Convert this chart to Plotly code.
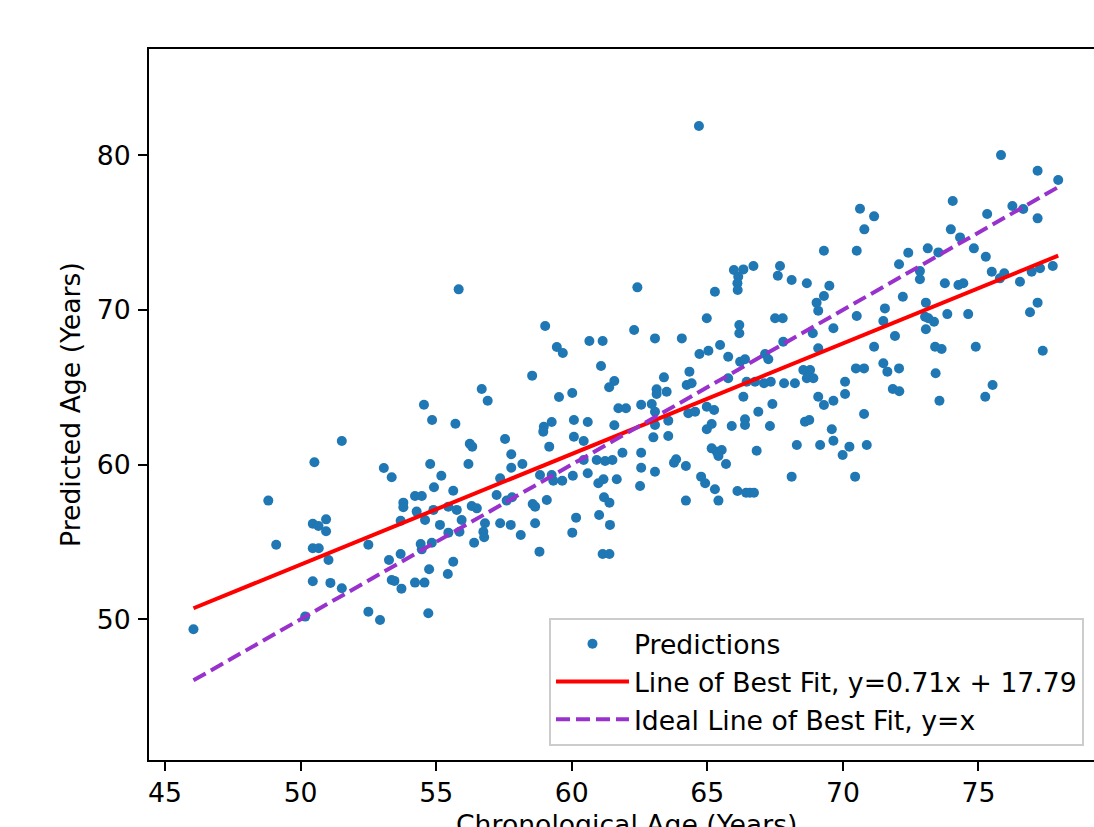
import plotly.graph_objects as go

# ---- data ----
chron_age = [
    51.52, 50.51, 53.07, 53.36, 48.81, 53.79, 53.79, 50.45, 50.66, 50.94,
    50.94, 53.69, 49.10, 50.45, 50.67, 52.50, 51.03, 53.26, 53.69, 50.45,
    51.10, 51.52, 53.36, 53.46, 53.72, 50.17, 52.50, 52.93, 46.05, 55.83,
    62.42, 59.02, 62.30, 60.65, 61.14, 59.45, 59.67, 61.08, 58.54, 61.57,
    61.38, 56.68, 56.90, 59.53, 60.02, 54.55, 54.85, 55.71, 61.72, 62.00,
    62.56, 58.97, 59.26, 58.95, 60.08, 60.59, 61.57, 57.54, 56.24, 56.33,
    59.17, 60.08, 60.44, 57.77, 54.78, 56.19, 57.77, 58.18, 55.19, 61.87,
    62.56, 60.44, 60.92, 61.23, 61.50, 62.56, 60.59, 61.17, 61.66, 60.98,
    60.04, 58.83, 59.26, 59.32, 59.65, 57.36, 54.92, 55.63, 62.52, 54.22,
    54.47, 54.28, 54.59, 54.90, 55.45, 55.76, 55.94, 55.14, 55.86, 55.45,
    56.31, 56.50, 57.23, 57.60, 57.80, 56.80, 56.74, 56.77, 56.40, 57.36,
    57.75, 58.12, 58.56, 58.65, 59.08, 58.65, 58.81, 60.16, 60.02, 61.01,
    61.19, 61.39, 61.41, 61.14, 61.39, 54.43, 54.84, 54.47, 54.74, 55.63,
    55.43, 54.22, 54.57, 54.71, 64.69, 70.63, 70.79, 69.30, 70.51, 65.98,
    66.33, 66.70, 66.14, 66.11, 66.12, 65.28, 67.68, 67.60, 68.11, 68.67,
    69.50, 69.30, 69.03, 69.09, 70.51, 64.98, 66.18, 66.18, 67.50, 67.78,
    68.89, 69.65, 63.07, 64.06, 65.47, 64.71, 65.04, 65.77, 66.21, 66.39,
    67.13, 67.25, 67.80, 69.09, 64.34, 63.40, 64.24, 64.42, 65.77, 63.13,
    63.13, 63.50, 62.95, 66.45, 66.76, 67.09, 67.34, 67.83, 68.23, 68.54,
    68.79, 68.67, 68.91, 70.08, 70.48, 70.78, 70.08, 66.33, 67.40, 69.09,
    69.30, 69.65, 63.07, 64.30, 64.55, 64.98, 65.25, 66.88, 70.78, 63.56,
    63.07, 63.01, 63.56, 64.98, 65.16, 65.90, 66.39, 66.39, 67.31, 68.60,
    68.76, 69.59, 69.65, 68.30, 69.16, 70.24, 69.99, 70.88, 63.07, 63.77,
    63.85, 64.21, 65.16, 65.35, 65.53, 65.41, 65.69, 66.82, 64.77, 64.92,
    65.28, 66.11, 66.43, 66.57, 66.72, 68.11, 70.45, 64.21, 65.41, 75.83,
    77.18, 77.94, 71.15, 74.05, 75.32, 76.25, 76.65, 77.18, 73.98, 74.32,
    73.13, 73.52, 72.41, 74.83, 75.27, 72.07, 72.84, 72.84, 75.49, 75.79,
    75.95, 76.96, 77.27, 77.74, 76.53, 73.76, 74.26, 74.44, 72.21, 71.55,
    73.06, 73.03, 73.15, 73.36, 73.85, 74.62, 77.18, 76.90, 71.49, 71.92,
    73.06, 71.15, 71.49, 71.64, 72.07, 73.40, 73.64, 74.90, 77.37, 73.42,
    71.84, 72.08, 75.52, 75.25, 73.56,
]
pred_age = [
    61.53, 60.15, 59.78, 59.18, 57.67, 57.54, 57.24, 56.18, 56.03, 56.46,
    55.69, 56.37, 54.82, 54.59, 54.59, 54.82, 53.83, 53.83, 54.22, 52.46,
    52.35, 52.00, 52.54, 52.48, 51.98, 50.17, 50.49, 49.95, 49.35, 71.33,
    71.46, 68.96, 68.70, 67.99, 67.99, 67.60, 67.21, 66.37, 65.75, 65.40,
    65.00, 64.89, 64.13, 64.37, 64.63, 63.87, 62.88, 62.64, 63.64, 63.64,
    63.87, 62.45, 62.75, 62.13, 62.88, 62.75, 62.54, 61.65, 61.35, 61.16,
    61.16, 61.80, 61.53, 60.67, 60.04, 60.04, 59.80, 60.04, 59.28, 60.77,
    60.77, 60.30, 60.30, 60.23, 60.30, 59.80, 59.44, 59.05, 59.05, 58.79,
    59.28, 59.33, 59.33, 58.96, 58.96, 59.11, 58.53, 58.31, 58.62, 57.97,
    57.97, 56.96, 56.42, 57.07, 57.28, 57.07, 56.42, 56.10, 55.66, 55.60,
    57.32, 57.17, 58.03, 57.67, 57.89, 56.21, 55.66, 55.30, 54.95, 56.21,
    56.10, 55.45, 57.45, 57.28, 57.71, 56.21, 54.37, 56.57, 55.60, 56.74,
    57.89, 57.54, 56.10, 54.22, 54.22, 54.87, 54.95, 54.52, 53.23, 53.72,
    52.93, 52.37, 52.37, 50.39, 81.89, 76.54, 75.21, 73.83, 73.83, 72.58,
    72.62, 72.84, 72.15, 71.72, 71.29, 71.18, 72.84, 72.21, 71.93, 71.72,
    71.56, 70.90, 70.47, 69.95, 69.61, 69.46, 69.02, 68.49, 69.46, 69.46,
    68.49, 68.81, 68.16, 68.16, 67.73, 67.15, 67.36, 66.97, 66.65, 66.81,
    67.15, 66.81, 67.94, 67.52, 66.01, 65.64, 65.15, 65.26, 65.58, 64.87,
    64.56, 64.71, 63.92, 65.36, 65.36, 65.26, 65.36, 65.26, 65.26, 66.12,
    66.12, 65.58, 65.58, 65.36, 66.22, 66.22, 64.56, 64.39, 63.92, 64.39,
    63.85, 64.13, 63.42, 63.32, 63.42, 63.74, 63.53, 63.42, 63.27, 62.84,
    62.56, 61.76, 61.85, 62.28, 62.62, 62.50, 62.93, 62.56, 62.50, 62.77,
    62.88, 62.28, 61.54, 61.27, 61.27, 61.16, 60.62, 61.27, 59.54, 60.12,
    60.34, 59.91, 61.05, 60.83, 60.94, 60.56, 60.04, 60.90, 59.22, 58.79,
    58.40, 58.29, 58.18, 58.18, 58.18, 59.22, 59.22, 57.67, 57.67, 80.01,
    79.00, 78.40, 76.05, 77.04, 76.20, 76.72, 76.52, 75.92, 75.21, 74.69,
    73.98, 73.72, 73.70, 73.98, 73.44, 72.95, 72.51, 71.98, 72.47, 72.04,
    72.37, 72.47, 72.69, 72.84, 71.82, 71.72, 71.61, 71.72, 70.85, 70.10,
    70.47, 69.56, 69.46, 69.24, 69.73, 69.73, 70.47, 69.85, 69.28, 68.31,
    68.75, 67.62, 66.55, 66.01, 66.22, 67.62, 67.47, 67.62, 67.36, 65.90,
    64.89, 64.74, 65.15, 64.39, 64.13,
]
fit_slope = 0.7149
fit_intercept = 17.79
series_names = [
    "Predictions",
    "Line of Best Fit, y=0.71x + 17.79",
    "Ideal Line of Best Fit, y=x",
]
x_ticks = [45, 50, 55, 60, 65, 70, 75]
y_ticks = [50, 60, 70, 80]
x_range = [44.41, 79.26]
y_range = [40.9, 86.87]
x_title = "Chronological Age (Years)"
y_title = "Predicted Age (Years)"

line_x = [min(chron_age), max(chron_age)]
fit_y = [fit_slope * v + fit_intercept for v in line_x]

FONT = "DejaVu Sans"
FS = 26.67

fig = go.Figure()
fig.add_trace(go.Scatter(
    x=chron_age, y=pred_age, mode="markers", name=series_names[0],
    marker=dict(color="#1f77b4", size=10, line=dict(width=0)),
))
fig.add_trace(go.Scatter(
    x=line_x, y=fit_y, mode="lines", name=series_names[1],
    line=dict(color="red", width=4),
))
fig.add_trace(go.Scatter(
    x=line_x, y=line_x, mode="lines", name=series_names[2],
    line=dict(color="#9932CC", width=4, dash="14px,6px"),
))

axis_common = dict(
    showgrid=False, zeroline=False, showline=True, linecolor="black",
    linewidth=2, ticks="outside", ticklen=9, tickwidth=2, tickcolor="black",
    tickfont=dict(family=FONT, size=FS, color="black"),
)
fig.update_xaxes(range=x_range, tickvals=x_ticks, mirror=True,
                 ticklabelstandoff=-1, **axis_common)
fig.update_yaxes(range=y_range, tickvals=y_ticks, mirror=False,
                 ticklabelstandoff=2, **axis_common)

fig.update_layout(
    width=1094, height=827,
    margin=dict(l=149, r=0, t=49, b=67, pad=0),
    paper_bgcolor="white", plot_bgcolor="white",
    font=dict(family=FONT, size=FS, color="black"),
    showlegend=True,
    legend=dict(
        x=0.9894, y=0.0197, xanchor="right", yanchor="bottom",
        bgcolor="rgba(255,255,255,0.8)", bordercolor="#cccccc", borderwidth=2,
        font=dict(family=FONT, size=FS, color="black"),
        itemwidth=73, tracegroupgap=0,
    ),
    annotations=[
        dict(text=x_title, xref="paper", yref="paper", x=0.5048, y=-0.0661,
             xanchor="center", yanchor="top", showarrow=False,
             font=dict(family=FONT, size=FS, color="black")),
        dict(text=y_title, xref="paper", yref="paper", x=-0.0831, y=0.5,
             xanchor="center", yanchor="middle", textangle=-90, showarrow=False,
             font=dict(family=FONT, size=FS, color="black")),
    ],
)

fig.write_html("out.html")
